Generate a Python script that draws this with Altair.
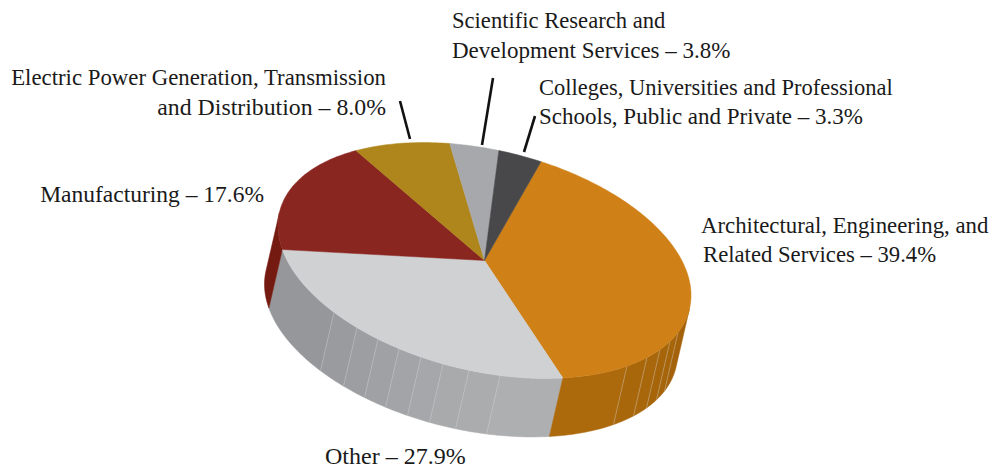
import math
import altair as alt

# --- shares (percent), clockwise from the top-right edge
names = ["Architectural", "Other", "Manufacturing", "Electric", "Scientific", "Colleges"]
shares = [39.4, 27.9, 17.6, 8.0, 3.8, 3.3]
top_colors = ["#cf8017", "#d0d1d3", "#8a2620", "#ae861c", "#a7a8ab", "#48484a"]

# --- pie geometry (page pixels)
CX, CY = 484.5, 260.5
A, B = 210.6, 110.5
PHI = math.radians(13.3)
T0 = -81.2
DX, DY = -13.5, 58.5
M = 8  # page margin

# wall facet seams: x of the seam on the pie rim
seam_x_gray = [500, 469, 443, 421, 399, 378, 357, 334]
seam_x_orange = [627, 647, 660, 670, 678]
gray_wall = ["#aeafb1", "#abacae", "#a9aaac", "#a6a7aa", "#a3a4a7", "#a0a1a4", "#9d9ea1", "#9a9b9e", "#96979a"]
orange_wall = ["#ad6a0c", "#a9670b", "#a9670b", "#a7650a", "#a7650a", "#a4630a"]
red_wall = "#741a10"

# labels: text, x, baseline y, align, size
label_text = ["Scientific Research and", "Development Services – 3.8%",
              "Colleges, Universities and Professional", "Schools, Public and Private – 3.3%",
              "Electric Power Generation, Transmission", "and Distribution – 8.0%",
              "Manufacturing – 17.6%",
              "Architectural, Engineering, and", "Related Services – 39.4%",
              "Other – 27.9%"]
label_x = [452, 452, 539, 539, 386, 386, 264, 701, 703, 325]
label_y = [28, 58, 95, 124, 85, 115, 202, 233, 262, 464]
label_align = ["left", "left", "left", "left", "right", "right", "right", "left", "left", "left"]
label_size = [22.6, 23, 22.5, 23, 22.8, 23.8, 23.5, 22.8, 22.7, 24]

# leader lines
lead_x1 = [400, 493, 535]
lead_y1 = [101, 78, 116]
lead_x2 = [410, 482, 524]
lead_y2 = [139, 145, 152]


def pt(deg, dx=0.0, dy=0.0):
    t = math.radians(deg)
    u, v = A * math.cos(t), B * math.sin(t)
    return [CX + u * math.cos(PHI) - v * math.sin(PHI) + dx - M,
            CY + u * math.sin(PHI) + v * math.cos(PHI) + dy - M]


def t_at_x(x):
    lo, hi = -6.8, 173.2
    for _ in range(50):
        mid = (lo + hi) / 2
        if pt(mid)[0] + M > x:
            lo = mid
        else:
            hi = mid
    return (lo + hi) / 2


def arc(a, b, dx=0.0, dy=0.0, step=1.0):
    n = max(2, int(abs(b - a) / step) + 1)
    return [pt(a + (b - a) * i / n, dx, dy) for i in range(n + 1)]


def poly(coords, color):
    return {"type": "Feature", "properties": {"c": color},
            "geometry": {"type": "Polygon", "coordinates": [coords + [coords[0]]]}}


def wall(a, b, color):
    return poly(arc(a, b) + arc(b, a, DX, DY), color)


# rim angle where the extrusion direction is tangent to the ellipse
du = DX * math.cos(PHI) + DY * math.sin(PHI)
dv = -DX * math.sin(PHI) + DY * math.cos(PHI)
T_TAN = math.degrees(math.atan2(-du / A, dv / B))

# slice boundaries from the shares
bounds = [T0]
for s in shares:
    bounds.append(bounds[-1] + s * 3.6)

walls = []
gb = [bounds[1]] + [t_at_x(x) for x in seam_x_gray] + [bounds[2]]
for i, col in enumerate(gray_wall):
    walls.append(wall(gb[i], gb[i + 1], col))
ob = [bounds[1]] + [t_at_x(x) for x in seam_x_orange] + [T_TAN]
for i, col in enumerate(orange_wall):
    walls.append(wall(ob[i], ob[i + 1], col))
walls.append(wall(bounds[2], T_TAN + 180.0, red_wall))

tops = []
for i, col in enumerate(top_colors):
    tops.append(poly([[CX - M, CY - M]] + arc(bounds[i], bounds[i + 1]), col))

seams = []
for x in seam_x_gray + seam_x_orange:
    t = t_at_x(x)
    seams.append({"type": "Feature", "properties": {},
                  "geometry": {"type": "LineString", "coordinates": [pt(t), pt(t, DX, DY)]}})

proj = dict(type="identity", scale=1, translate=[0, 0])


def shapes(feats):
    return (alt.Chart(alt.Data(values=feats))
            .mark_geoshape(strokeWidth=0.5)
            .encode(fill=alt.Fill("properties.c:N", scale=None, legend=None),
                    stroke=alt.Stroke("properties.c:N", scale=None, legend=None))
            .project(**proj))


seam_layer = (alt.Chart(alt.Data(values=seams))
              .mark_geoshape(filled=False, stroke="#d8d8d8", strokeWidth=0.5, strokeOpacity=0.7)
              .project(**proj))

lead_rows = [{"x": a - M, "y": b - M, "x2": c - M, "y2": d - M}
             for a, b, c, d in zip(lead_x1, lead_y1, lead_x2, lead_y2)]
leaders = (alt.Chart(alt.Data(values=lead_rows))
           .mark_rule(color="#111111", strokeWidth=2.6)
           .encode(x=alt.X("x:Q", scale=None, axis=None), x2="x2:Q",
                   y=alt.Y("y:Q", scale=None, axis=None), y2="y2:Q"))

text_layers = []
for al in ("left", "right"):
    rows = [{"t": t, "x": x - M, "y": y - M, "s": s}
            for t, x, y, a, s in zip(label_text, label_x, label_y, label_align, label_size) if a == al]
    text_layers.append(
        alt.Chart(alt.Data(values=rows))
        .mark_text(align=al, baseline="alphabetic", font="Liberation Serif", color="#1a1a1a")
        .encode(x=alt.X("x:Q", scale=None, axis=None), y=alt.Y("y:Q", scale=None, axis=None),
                size=alt.Size("s:Q", scale=None, legend=None), text="t:N"))

chart = (alt.layer(shapes(walls), seam_layer, shapes(tops), leaders, *text_layers)
         .properties(width=982, height=460, padding=0, background="white",
                     autosize=alt.AutoSizeParams(type="none"))
         .configure_view(stroke=None))

chart.save("out.html", embed_options={"renderer": "svg", "actions": False})
